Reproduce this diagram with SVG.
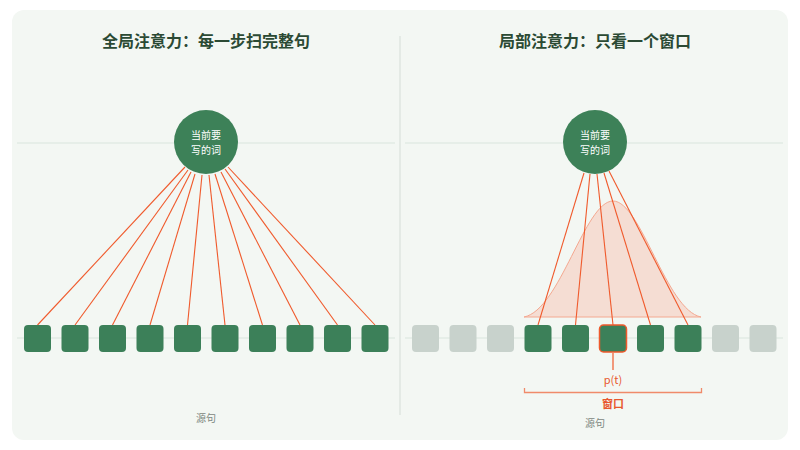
<svg xmlns="http://www.w3.org/2000/svg" width="800" height="450" viewBox="0 0 800 450">
<style>
text{font-family:"Noto Sans CJK SC","Noto Sans",sans-serif}
.t{font-size:16px;font-weight:bold;fill:#2b4a34;text-anchor:middle}
.n{font-size:10px;fill:#fff;text-anchor:middle}
.s{font-size:10px;fill:#7d8781;text-anchor:middle}
.o{font-size:11px;fill:#e8572e;text-anchor:middle}
.sq{fill:#3c8059}
.g{fill:#c8d2cc}
.e{stroke:#f05a2c;stroke-width:1.1;fill:none}
.guide{stroke:#e2ebe4;stroke-width:1.5}
</style>
<rect x="0" y="0" width="800" height="450" fill="#fff"/>
<rect x="12" y="10" width="776" height="430" rx="12" fill="#f3f7f3"/>
<line x1="400" y1="36" x2="400" y2="415" stroke="#dfe6e0" stroke-width="1.5"/>
<g class="guide"><line x1="17" y1="143" x2="395" y2="143"/><line x1="17" y1="338" x2="395" y2="338"/><line x1="405" y1="143" x2="783" y2="143"/><line x1="405" y1="338" x2="783" y2="338"/></g>
<text class="t" x="206" y="47">全局注意力：每一步扫完整句</text>
<text class="t" x="595" y="47">局部注意力：只看一个窗口</text>
<path d="M524 317 C560 310 585 201 613 201 C641 201 666 310 701 317 Z" fill="#f5ddd3" stroke="#f4a890" stroke-width="1"/>
<g id="connectors" class="e">
<line x1="185" y1="167" x2="37.5" y2="325"/><line x1="188" y1="170" x2="75" y2="325"/><line x1="191" y1="172" x2="112.5" y2="325"/><line x1="195" y1="174" x2="150" y2="325"/><line x1="202" y1="175" x2="187.5" y2="325"/><line x1="209" y1="175" x2="225" y2="325"/><line x1="215" y1="174" x2="262.5" y2="325"/><line x1="221" y1="172" x2="300" y2="325"/><line x1="225" y1="169" x2="337.5" y2="325"/><line x1="228" y1="167" x2="375" y2="325"/>
<line x1="584" y1="173" x2="538" y2="325"/><line x1="590" y1="174" x2="575.5" y2="325"/><line x1="597" y1="174" x2="613" y2="325"/><line x1="604" y1="173" x2="650.5" y2="325"/><line x1="609" y1="171" x2="688" y2="325"/>
</g>
<g id="query-left"><circle cx="206" cy="142" r="32" fill="#3d8158"/><text class="n" x="206" y="139">当前要</text><text class="n" x="206" y="154">写的词</text></g>
<g id="query-right"><circle cx="595" cy="142" r="32" fill="#3d8158"/><text class="n" x="595" y="139">当前要</text><text class="n" x="595" y="154">写的词</text></g>
<g id="source-left">
<rect class="sq" x="24" y="325" width="27" height="27" rx="4"/><rect class="sq" x="61.5" y="325" width="27" height="27" rx="4"/><rect class="sq" x="99" y="325" width="27" height="27" rx="4"/><rect class="sq" x="136.5" y="325" width="27" height="27" rx="4"/><rect class="sq" x="174" y="325" width="27" height="27" rx="4"/><rect class="sq" x="211.5" y="325" width="27" height="27" rx="4"/><rect class="sq" x="249" y="325" width="27" height="27" rx="4"/><rect class="sq" x="286.5" y="325" width="27" height="27" rx="4"/><rect class="sq" x="324" y="325" width="27" height="27" rx="4"/><rect class="sq" x="361.5" y="325" width="27" height="27" rx="4"/>
</g>
<g id="source-right">
<rect class="g" x="412" y="325" width="27" height="27" rx="4"/><rect class="g" x="449.5" y="325" width="27" height="27" rx="4"/><rect class="g" x="487" y="325" width="27" height="27" rx="4"/><rect class="sq" x="524.5" y="325" width="27" height="27" rx="4"/><rect class="sq" x="562" y="325" width="27" height="27" rx="4"/><rect class="sq" x="599.5" y="325" width="27" height="27" rx="4" stroke="#ef5a2c" stroke-width="1.5"/><rect class="sq" x="637" y="325" width="27" height="27" rx="4"/><rect class="sq" x="674.5" y="325" width="27" height="27" rx="4"/><rect class="g" x="712" y="325" width="27" height="27" rx="4"/><rect class="g" x="749.5" y="325" width="27" height="27" rx="4"/>
</g>
<line x1="613" y1="353" x2="613" y2="370" stroke="#f05a2c" stroke-width="1.2"/>
<text class="o" x="613" y="384">p(t)</text>
<path d="M524.5 388 V392.5 H701.5 V388" fill="none" stroke="#f08a6a" stroke-width="1.3"/>
<text class="o" x="613" y="408" font-weight="bold">窗口</text>
<text class="s" x="206" y="422">源句</text>
<text class="s" x="595" y="427">源句</text>
</svg>
